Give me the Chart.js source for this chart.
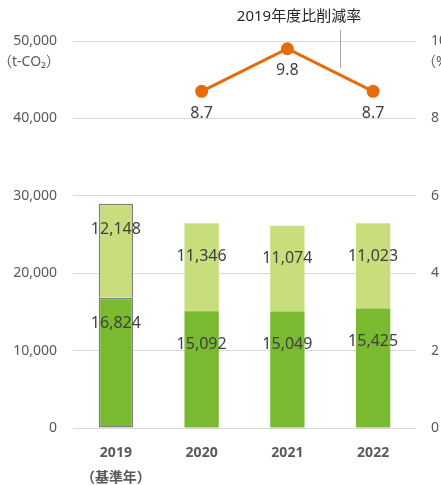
<!DOCTYPE html>
<html>
<head>
<meta charset="utf-8">
<script src="https://cdn.jsdelivr.net/npm/chart.js@4.4.1/dist/chart.umd.min.js"></script>
<style>
  html, body { margin: 0; padding: 0; background: #fff; overflow: hidden; }
  #wrap { width: 441px; height: 485px; }
</style>
</head>
<body>
<div id="wrap"><canvas id="co2Chart" width="441" height="485"></canvas></div>
<script>
// chart data
const years = [['2019', '（基準年）'], '2020', '2021', '2022'];
const lowerValues = [16824, 15092, 15049, 15425];
const upperValues = [12148, 11346, 11074, 11023];
const reductionRate = [null, 8.7, 9.8, 8.7];
const leftTicks = [0, 10000, 20000, 30000, 40000, 50000];
const rightTicks = [0, 2, 4, 6, 8, 10];

const FONT = "'Noto Sans', 'Noto Sans CJK JP', sans-serif";
const GRAY = '#595959';
const LABEL = '#404040';

// draws the value labels, axis units and the callout
const labelPlugin = {
    id: 'labels',
    afterDatasetsDraw(chart) {
        const ctx = chart.ctx;
        ctx.save();
        ctx.textAlign = 'center';
        ctx.textBaseline = 'middle';
        ctx.fillStyle = LABEL;
        ctx.font = '16px ' + FONT;

        [0, 1].forEach(function(di) {
            const meta = chart.getDatasetMeta(di);
            meta.data.forEach(function(bar, i) {
                const v = chart.data.datasets[di].data[i];
                const off = i === 0 ? 26 : 33;
                ctx.fillText(v.toLocaleString('en-US'), bar.x, bar.y + off);
            });
        });

        const lineMeta = chart.getDatasetMeta(2);
        lineMeta.data.forEach(function(pt, i) {
            const v = reductionRate[i];
            if (v === null) return;
            ctx.fillText(v.toFixed(1), pt.x, pt.y + 22);
        });

        // axis units
        ctx.fillStyle = GRAY;
        ctx.font = '14px ' + FONT;
        ctx.textAlign = 'right';
        ctx.fillText('（t-CO₂）', 60, 62);
        ctx.textAlign = 'left';
        ctx.fillText('（%）', 422, 62);

        // callout for the line series
        ctx.fillStyle = '#262626';
        ctx.font = '15px ' + FONT;
        ctx.textAlign = 'center';
        ctx.fillText('2019年度比削減率', 299, 17);
        ctx.strokeStyle = '#A6A6A6';
        ctx.lineWidth = 1;
        ctx.beginPath();
        ctx.moveTo(340.5, 30);
        ctx.lineTo(340.5, 68);
        ctx.stroke();
        ctx.restore();
    }
};

const ctx = document.getElementById('co2Chart').getContext('2d');
const chart = new Chart(ctx, {
    type: 'bar',
    data: {
        labels: years,
        datasets: [{
            label: 'lower',
            data: lowerValues,
            backgroundColor: '#7ABA30',
            borderColor: ['#7F7F7F', 'rgba(0,0,0,0)', 'rgba(0,0,0,0)', 'rgba(0,0,0,0)'],
            borderWidth: [1.5, 0, 0, 0],
            borderSkipped: false,
            categoryPercentage: 0.8,
            barPercentage: 0.5,
            order: 1
        }, {
            label: 'upper',
            data: upperValues,
            backgroundColor: '#C8DE7D',
            borderColor: ['#7F7F7F', 'rgba(0,0,0,0)', 'rgba(0,0,0,0)', 'rgba(0,0,0,0)'],
            borderWidth: [1.5, 0, 0, 0],
            borderSkipped: ['bottom', false, false, false],
            categoryPercentage: 0.8,
            barPercentage: 0.5,
            order: 1
        }, {
            type: 'line',
            label: '2019年度比削減率',
            data: reductionRate,
            yAxisID: 'y1',
            borderColor: '#E46C0A',
            backgroundColor: '#E46C0A',
            borderWidth: 3,
            pointRadius: 5,
            pointHoverRadius: 5,
            fill: false,
            order: 0
        }]
    },
    options: {
        responsive: false,
        animation: false,
        layout: { padding: { top: 41, left: 0, right: 0, bottom: 0 } },
        plugins: {
            legend: { display: false },
            tooltip: { enabled: false }
        },
        scales: {
            x: {
                stacked: true,
                grid: { display: false },
                border: { display: false },
                ticks: {
                    color: GRAY,
                    padding: 4,
                    font: { family: FONT, size: 14, weight: 'bold', lineHeight: 1.8 }
                },
                afterFit: function(scale) { scale.height = 57; }
            },
            y: {
                stacked: true,
                min: 0,
                max: 50000,
                afterBuildTicks: function(scale) {
                    scale.ticks = leftTicks.map(v => ({ value: v }));
                },
                grid: { color: '#D9D9D9', lineWidth: 1, drawTicks: false },
                border: { display: false },
                ticks: {
                    color: GRAY,
                    padding: 16,
                    font: { family: FONT, size: 14 },
                    callback: v => v.toLocaleString('en-US')
                },
                afterFit: function(scale) { scale.width = 73; }
            },
            y1: {
                position: 'right',
                min: 0,
                max: 10,
                afterBuildTicks: function(scale) {
                    scale.ticks = rightTicks.map(v => ({ value: v }));
                },
                grid: { display: false, drawTicks: false },
                border: { display: false },
                ticks: {
                    color: GRAY,
                    padding: 15,
                    font: { family: FONT, size: 14 }
                },
                afterFit: function(scale) { scale.width = 25; }
            }
        }
    },
    plugins: [labelPlugin]
});
</script>
</body>
</html>
